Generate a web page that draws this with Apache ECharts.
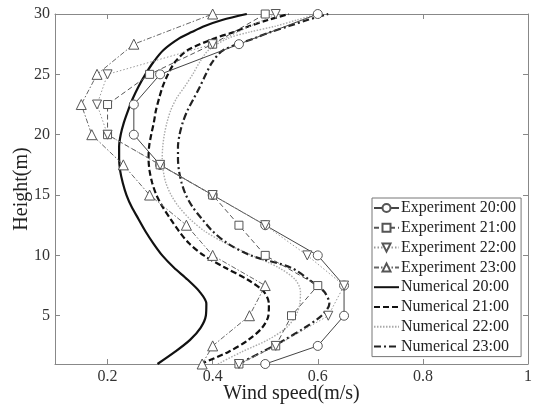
<!DOCTYPE html>
<html>
<head>
<meta charset="utf-8">
<script src="https://cdn.jsdelivr.net/npm/echarts@6/dist/echarts.min.js"></script>
<style>
html,body{margin:0;padding:0;background:#fff;}
#chart{width:534px;height:405px;}
</style>
</head>
<body>
<div id="chart"></div>
<script>
// ---- data ----
const xTicks = [0.2, 0.4, 0.6, 0.8, 1];
const yTicks = [5, 10, 15, 20, 25, 30];

const expHeights = [1, 2.5, 5, 7.5, 10, 12.5, 15, 17.5, 20, 22.5, 25, 27.5, 30];
const exp20 = [0.50, 0.60, 0.65, 0.65, 0.60, 0.50, 0.40, 0.30, 0.25, 0.25, 0.30, 0.45, 0.60];
const exp21 = [0.45, 0.52, 0.55, 0.60, 0.50, 0.45, 0.40, 0.30, 0.20, 0.20, 0.28, 0.40, 0.50];
const exp22 = [0.45, 0.52, 0.62, 0.65, 0.58, 0.50, 0.40, 0.30, 0.20, 0.18, 0.20, 0.40, 0.52];
const exp23 = [0.38, 0.40, 0.47, 0.50, 0.40, 0.35, 0.28, 0.23, 0.17, 0.15, 0.18, 0.25, 0.40];

const numHeights = [1,2,3,4,5,6,7,8,9,10,11,12,13,14,15,16,17,18,19,20,21,22,23,24,25,26,27,28,28.5,29,29.5,30];
const num20 = [0.295,0.328,0.357,0.377,0.387,0.388,0.375,0.352,0.326,0.304,0.287,0.272,0.259,0.246,0.236,0.229,0.224,0.222,0.222,0.225,0.231,0.239,0.248,0.259,0.272,0.287,0.306,0.337,0.360,0.385,0.418,0.465];
const num21 = [0.377,0.430,0.468,0.494,0.506,0.507,0.497,0.466,0.423,0.383,0.355,0.336,0.320,0.305,0.293,0.285,0.280,0.278,0.279,0.283,0.288,0.292,0.298,0.305,0.315,0.328,0.352,0.405,0.440,0.470,0.505,0.545];
const num22 = [0.410,0.455,0.505,0.540,0.558,0.566,0.567,0.557,0.525,0.475,0.425,0.385,0.357,0.336,0.321,0.311,0.306,0.304,0.305,0.308,0.313,0.320,0.331,0.347,0.362,0.375,0.392,0.430,0.470,0.520,0.560,0.600];
const num23 = [0.449,0.494,0.537,0.575,0.607,0.622,0.612,0.583,0.548,0.472,0.428,0.400,0.380,0.362,0.349,0.341,0.336,0.334,0.334,0.337,0.343,0.352,0.364,0.376,0.387,0.399,0.420,0.480,0.510,0.545,0.580,0.620];

const names = ['Experiment 20:00','Experiment 21:00','Experiment 22:00','Experiment 23:00',
               'Numerical 20:00','Numerical 21:00','Numerical 22:00','Numerical 23:00'];

// ---- build ----
function pairs(vals, hs) { return vals.map((v, i) => [v, hs[i]]); }

const FONT = '"Liberation Serif", "Times New Roman", serif';
const downTri = 'path://M0,0 L10,0 L5,9 Z';

function expSeries(name, vals, symbol, size, color, lineType) {
  return {
    name: name, type: 'line', data: pairs(vals, expHeights),
    symbol: symbol, symbolSize: size, showAllSymbol: true, z: 5,
    itemStyle: { color: '#fff', borderColor: '#555', borderWidth: 1 },
    lineStyle: { color: color, width: 1, type: lineType },
    emphasis: { disabled: true }, animation: false
  };
}
function numSeries(name, vals, color, width, lineType) {
  return {
    name: name, type: 'line', data: pairs(vals, numHeights),
    symbol: 'circle', showSymbol: false, smooth: 0.3, z: 3,
    itemStyle: { color: 'rgba(0,0,0,0)', borderWidth: 0 },
    lineStyle: { color: color, width: width, type: lineType },
    emphasis: { disabled: true }, animation: false
  };
}

const axisLineStyle = { lineStyle: { color: '#888', width: 1 } };

const option = {
  animation: false,
  backgroundColor: '#fff',
  grid: { left: 55, top: 14, right: 6, bottom: 41, containLabel: false, outerBoundsMode: 'none' },
  legend: {
    orient: 'vertical', left: 372, top: 198,
    data: names,
    itemWidth: 25, itemHeight: 10, itemGap: 3.8,
    padding: [2, 5, 2, 1],
    backgroundColor: '#fff', borderColor: '#777', borderWidth: 1,
    textStyle: { fontFamily: FONT, fontSize: 16, color: '#222', padding: [0, 0, 0, -3] },
    z: 10
  },
  xAxis: [{
    type: 'value', min: 0.1, max: 1,
    name: 'Wind speed(m/s)', nameLocation: 'middle', nameGap: 20, nameMoveOverlap: false,
    nameTextStyle: { fontFamily: FONT, fontSize: 20, color: '#222' },
    axisLine: axisLineStyle,
    axisTick: { inside: true, length: 5, customValues: xTicks, lineStyle: { color: '#888' } },
    axisLabel: { customValues: xTicks, fontFamily: FONT, fontSize: 16, color: '#333', margin: 5,
                 formatter: v => String(+v.toFixed(2)) },
    splitLine: { show: false }
  }, {
    type: 'value', position: 'top', min: 0.1, max: 1,
    axisLine: axisLineStyle,
    axisTick: { inside: true, length: 5, customValues: xTicks, lineStyle: { color: '#888' } },
    axisLabel: { show: false }, splitLine: { show: false }
  }],
  yAxis: [{
    type: 'value', min: 1, max: 30,
    name: 'Height(m)', nameLocation: 'middle', nameGap: 23, nameMoveOverlap: false,
    nameTextStyle: { fontFamily: FONT, fontSize: 20, color: '#222' },
    axisLine: axisLineStyle,
    axisTick: { inside: true, length: 5, customValues: yTicks, lineStyle: { color: '#888' } },
    axisLabel: { customValues: yTicks, fontFamily: FONT, fontSize: 16, color: '#333', margin: 5 },
    splitLine: { show: false }
  }, {
    type: 'value', position: 'right', min: 1, max: 30,
    axisLine: axisLineStyle,
    axisTick: { inside: true, length: 5, customValues: yTicks, lineStyle: { color: '#888' } },
    axisLabel: { show: false }, splitLine: { show: false }
  }],
  series: [
    expSeries(names[0], exp20, 'circle', 9, '#444', 'solid'),
    expSeries(names[1], exp21, 'rect', 8, '#555', [5, 3]),
    expSeries(names[2], exp22, downTri, 9, '#999', [1.5, 2]),
    expSeries(names[3], exp23, 'triangle', 10, '#666', [5, 2, 1.5, 2]),
    numSeries(names[4], num20, '#111', 2.2, 'solid'),
    numSeries(names[5], num21, '#111', 2.2, [6, 3]),
    numSeries(names[6], num22, '#aaa', 1.4, [1.5, 1.5]),
    numSeries(names[7], num23, '#222', 2.2, [7, 3, 2, 3])
  ]
};

const chart = echarts.init(document.getElementById('chart'), null, { renderer: 'canvas' });
chart.setOption(option);
</script>
</body>
</html>
